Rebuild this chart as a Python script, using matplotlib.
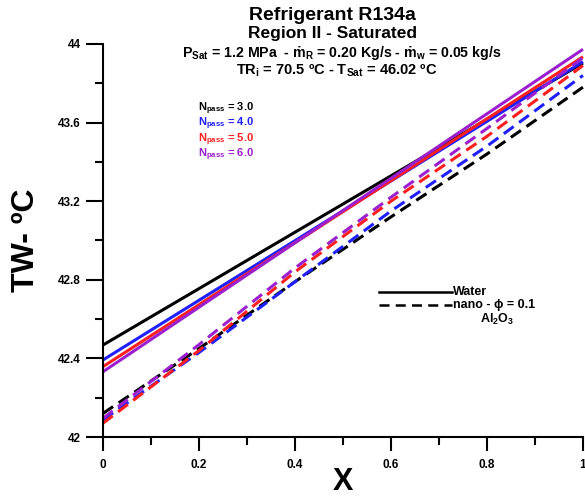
import matplotlib
matplotlib.use('Agg')
import matplotlib.pyplot as plt

plt.rcParams['font.family'] = ['Liberation Sans', 'DejaVu Sans']
plt.rcParams['font.weight'] = 'bold'
plt.rcParams['mathtext.fontset'] = 'custom'
plt.rcParams['mathtext.rm'] = 'Liberation Sans:bold'
plt.rcParams['mathtext.it'] = 'Liberation Sans:bold'
plt.rcParams['mathtext.bf'] = 'Liberation Sans:bold'
plt.rcParams['mathtext.default'] = 'rm'

# data
x_solid = [0.0, 1.0]
water_n3 = [42.468, 43.903]
water_n4 = [42.392, 43.910]
water_n5 = [42.358, 43.935]
water_n6 = [42.332, 43.973]

x_dash = [0.0, 0.2, 0.4, 0.6, 0.8, 1.0]
nano_n3 = [42.120, 42.45, 42.79, 43.12, 43.44, 43.78]
nano_n4 = [42.087, 42.43, 42.79, 43.15, 43.48, 43.84]
nano_n5 = [42.070, 42.44, 42.84, 43.20, 43.53, 43.89]
nano_n6 = [42.095, 42.47, 42.86, 43.22, 43.57, 43.93]

npass = ['3.0', '4.0', '5.0', '6.0']
colors = ['black', '#1f1fff', '#ff1f1f', '#9b1fcf']

fig = plt.figure(figsize=(5.85, 4.97), dpi=100)
ax = fig.add_axes([0.176, 0.1207, 0.8205, 0.7908])

water = [water_n3, water_n4, water_n5, water_n6]
nano = [nano_n3, nano_n4, nano_n5, nano_n6]
for w, n, c in zip(water, nano, colors):
    ax.plot(x_solid, w, color=c, lw=2.2, solid_capstyle='butt', clip_on=False)
    ax.plot(x_dash, n, color=c, lw=2.2, dashes=(4, 2.2), clip_on=False)

ax.set_xlim(0, 1)
ax.set_ylim(42, 44)
ax.spines['top'].set_visible(False)
ax.spines['right'].set_visible(False)
ax.spines['left'].set_linewidth(1.5)
ax.spines['bottom'].set_linewidth(1.5)
ax.set_xticks([0, 0.2, 0.4, 0.6, 0.8, 1.0])
ax.set_xticklabels(['0', '0.2', '0.4', '0.6', '0.8', '1'])
ax.set_xticks([0.1, 0.3, 0.5, 0.7, 0.9], minor=True)
ax.set_yticks([42, 42.4, 42.8, 43.2, 43.6, 44])
ax.set_yticklabels(['42', '42.4', '42.8', '43.2', '43.6', '44'])
ax.set_yticks([42.2, 42.6, 43.0, 43.4, 43.8], minor=True)
ax.tick_params(axis='y', which='major', length=12, width=1.5, labelsize=8.5, pad=4)
ax.tick_params(axis='y', which='minor', length=6, width=1.5)
ax.tick_params(axis='x', which='major', length=10, width=1.5, labelsize=8.5, pad=6)
ax.tick_params(axis='x', which='minor', length=6, width=1.5)

ax.set_xlabel('X', fontsize=22, fontweight='bold', labelpad=-3)
ax.set_ylabel('TW- ºC', fontsize=23, fontweight='bold', labelpad=12)

fig.text(0.568, 0.968, 'Refrigerant R134a', ha='center', va='center', fontsize=14, fontweight='bold')
fig.text(0.568, 0.933, 'Region II - Saturated', ha='center', va='center', fontsize=12.5, fontweight='bold')
fig.text(0.584, 0.893, r'P$_{\rm Sat}$ = 1.2 MPa  - ṁ$_{\rm R}$ = 0.20 Kg/s - ṁ$_{\rm w}$ = 0.05 kg/s',
         ha='center', va='center', fontsize=10.2, fontweight='bold')
fig.text(0.576, 0.857, r'TR$_{\rm i}$ = 70.5 ºC - T$_{\rm Sat}$ = 46.02 ºC',
         ha='center', va='center', fontsize=10.5, fontweight='bold')

for i, (n, c) in enumerate(zip(npass, colors)):
    fig.text(0.338, 0.781 - i * 0.0310, r'N$_{\rm pass}$ = ' + n, color=c,
             ha='left', va='center', fontsize=8, fontweight='bold')

# legend drawn by hand
ax.plot([0.575, 0.727], [42.74, 42.74], color='black', lw=1.8)
ax.plot([0.575, 0.727], [42.67, 42.67], color='black', lw=1.8, dashes=(4, 2.5))
ax.text(0.73, 42.74, 'Water', ha='left', va='center', fontsize=9, fontweight='bold')
ax.text(0.73, 42.67, 'nano - ϕ = 0.1', ha='left', va='center', fontsize=9, fontweight='bold',
        family=['Liberation Sans', 'DejaVu Sans'])
ax.text(0.785, 42.60, r'Al$_2$O$_3$', ha='left', va='center', fontsize=9, fontweight='bold')

fig.savefig('out.png', dpi=100)
